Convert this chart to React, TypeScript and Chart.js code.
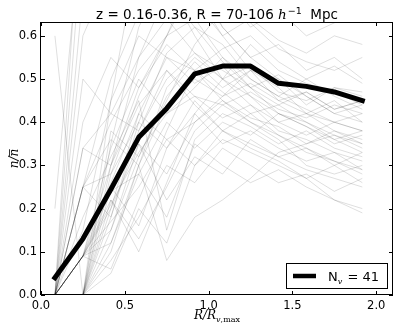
import React, { useEffect, useRef } from 'react';
import { Chart, registerables } from 'chart.js';

Chart.register(...registerables);

// ---- data ----
const xBins = [0.083, 0.25, 0.417, 0.583, 0.75, 0.917, 1.083, 1.25, 1.417, 1.583, 1.75, 1.917];
const meanProfile = [0.04, 0.13, 0.245, 0.365, 0.432, 0.512, 0.53, 0.53, 0.49, 0.483, 0.47, 0.45];
const xTicks = [0, 0.5, 1.0, 1.5, 2.0];
const yTicks = [0, 0.1, 0.2, 0.3, 0.4, 0.5, 0.6];
const xRange = [0, 2.1];
const yRange = [0, 0.632];
const voidCount = 41;

const void01 = [0, 0.09, 0.21, 0.33, 0.42, 0.46, 0.41, 0.44, 0.38, 0.36, 0.33, 0.31];
const void02 = [0, 0.09, 0.17, 0.25, 0.36, 0.40, 0.45, 0.41, 0.39, 0.35, 0.37, 0.34];
const void03 = [0, 0.25, 0.40, 0.52, 0.60, 0.72, 0.62, 0.55, 0.50, 0.46, 0.42, 0.44];
const void04 = [0.6, 0, 0.12, 0.30, 0.48, 0.55, 0.50, 0.58, 0.52, 0.49, 0.47, 0.44];
const void05 = [0, 0, 0.10, 0.30, 0.08, 0.18, 0.22, 0.27, 0.33, 0.35, 0.38, 0.36];
const void06 = [0, 0.34, 0.42, 0.38, 0.50, 0.56, 0.52, 0.48, 0.44, 0.47, 0.43, 0.45];
const void07 = [0, 0.85, 0.70, 0.65, 0.72, 0.60, 0.50, 0.46, 0.42, 0.40, 0.37, 0.35];
const void08 = [0, 0, 0.30, 0.55, 0.70, 0.62, 0.58, 0.50, 0.46, 0.43, 0.40, 0.42];
const void09 = [0, 0.09, 0.22, 0.13, 0.25, 0.38, 0.44, 0.40, 0.36, 0.30, 0.28, 0.30];
const void10 = [0, 0, 0.20, 0.42, 0.55, 0.49, 0.53, 0.46, 0.40, 0.42, 0.38, 0.35];
const void11 = [0.2, 0.9, 0.75, 0.80, 0.70, 0.66, 0.72, 0.68, 0.71, 0.65, 0.70, 0.66];
const void12 = [0, 0.09, 0.30, 0.48, 0.60, 0.75, 0.62, 0.55, 0.58, 0.52, 0.55, 0.50];
const void13 = [0, 0.25, 0.28, 0.40, 0.34, 0.45, 0.38, 0.35, 0.32, 0.29, 0.27, 0.25];
const void14 = [0, 0, 0.05, 0.20, 0.12, 0.30, 0.36, 0.33, 0.30, 0.27, 0.22, 0.19];
const void15 = [0, 0.09, 0.15, 0.32, 0.45, 0.58, 0.66, 0.63, 0.57, 0.54, 0.52, 0.55];
const void16 = [0, 0.50, 0.42, 0.55, 0.64, 0.56, 0.50, 0.53, 0.47, 0.45, 0.48, 0.46];
const void17 = [0, 0, 0.25, 0.16, 0.34, 0.42, 0.35, 0.38, 0.34, 0.31, 0.33, 0.29];
const void18 = [0, 0.09, 0.06, 0.22, 0.38, 0.52, 0.47, 0.42, 0.44, 0.40, 0.36, 0.38];
const void19 = [0, 0.70, 0.95, 0.85, 0.75, 0.70, 0.60, 0.64, 0.59, 0.56, 0.60, 0.58];
const void20 = [0, 0, 0.35, 0.62, 0.75, 0.68, 0.60, 0.52, 0.45, 0.42, 0.40, 0.38];
const void21 = [0, 0.09, 0.20, 0.35, 0.28, 0.40, 0.46, 0.52, 0.48, 0.42, 0.45, 0.40];
const void22 = [0, 0.18, 0.32, 0.45, 0.15, 0.36, 0.42, 0.39, 0.35, 0.38, 0.34, 0.32];
const void23 = [0, 0, 0.08, 0.18, 0.30, 0.26, 0.34, 0.30, 0.26, 0.28, 0.24, 0.27];
const void24 = [0, 0.40, 0.55, 0.48, 0.58, 0.52, 0.57, 0.60, 0.54, 0.50, 0.53, 0.49];
const void25 = [0, 0, 0.45, 0.80, 0.66, 0.74, 0.78, 0.70, 0.76, 0.72, 0.69, 0.74];
const void26 = [0, 0.09, 0.24, 0.28, 0.40, 0.34, 0.40, 0.37, 0.42, 0.39, 0.35, 0.37];
const void27 = [0, 0.25, 0.36, 0.30, 0.44, 0.50, 0.46, 0.49, 0.45, 0.47, 0.43, 0.45];
const void28 = [0, 0, 0.15, 0.35, 0.22, 0.32, 0.28, 0.36, 0.32, 0.34, 0.30, 0.33];
const void29 = [0, 1.0, 0.80, 0.72, 0.68, 0.74, 0.70, 0.62, 0.66, 0.60, 0.63, 0.65];
const void30 = [0, 0.09, 0.34, 0.50, 0.42, 0.48, 0.55, 0.50, 0.46, 0.50, 0.46, 0.43];
const void31 = [0, 0, 0.18, 0.38, 0.52, 0.44, 0.38, 0.42, 0.37, 0.33, 0.31, 0.28];
const void32 = [0, 0.25, 0.18, 0.40, 0.56, 0.62, 0.54, 0.48, 0.51, 0.46, 0.42, 0.40];
const void33 = [0, 0, 0.28, 0.46, 0.60, 0.64, 0.55, 0.48, 0.42, 0.39, 0.36, 0.33];
const void34 = [0, 0.09, 0.12, 0.28, 0.18, 0.35, 0.30, 0.26, 0.29, 0.25, 0.22, 0.20];
const void35 = [0, 0.60, 0.75, 0.68, 0.78, 0.82, 0.74, 0.78, 0.73, 0.75, 0.70, 0.72];
const void36 = [0, 0, 0.38, 0.32, 0.46, 0.54, 0.48, 0.52, 0.50, 0.44, 0.48, 0.47];
const void37 = [0, 0.15, 0.45, 0.60, 0.55, 0.52, 0.45, 0.40, 0.37, 0.34, 0.31, 0.29];
const void38 = [0, 0.09, 0.26, 0.42, 0.36, 0.30, 0.38, 0.34, 0.31, 0.27, 0.30, 0.26];
const void39 = [0, 0, 0.22, 0.10, 0.26, 0.42, 0.50, 0.44, 0.40, 0.37, 0.40, 0.38];
const void40 = [0, 0.34, 0.30, 0.44, 0.52, 0.46, 0.44, 0.47, 0.43, 0.41, 0.44, 0.42];
const void41 = [0, 0.25, 0.50, 0.65, 0.85, 0.90, 0.80, 0.76, 0.70, 0.72, 0.66, 0.63];

const voidProfiles = [
  void01, void02, void03, void04, void05, void06, void07, void08, void09, void10,
  void11, void12, void13, void14, void15, void16, void17, void18, void19, void20,
  void21, void22, void23, void24, void25, void26, void27, void28, void29, void30,
  void31, void32, void33, void34, void35, void36, void37, void38, void39, void40, void41,
];

const SANS = '"DejaVu Sans", sans-serif';
const SERIF = '"DejaVu Serif", serif';

const decorPlugin = {
  id: 'decor',
  afterDraw(chart: any) {
    const { ctx, chartArea, scales } = chart;
    const { left, right, top, bottom } = chartArea;
    const xs = scales.x;
    const ys = scales.y;
    ctx.save();
    // frame
    ctx.strokeStyle = '#000';
    ctx.lineWidth = 1;
    ctx.strokeRect(left - 0.5, top + 0.5, right - left, bottom - top - 1);
    // inward ticks
    ctx.beginPath();
    xTicks.forEach((v) => {
      const px = Math.round(xs.getPixelForValue(v)) + 0.5;
      ctx.moveTo(px, bottom);
      ctx.lineTo(px, bottom - 4);
      ctx.moveTo(px, top);
      ctx.lineTo(px, top + 4);
    });
    yTicks.forEach((v) => {
      const py = Math.round(ys.getPixelForValue(v)) + 0.5;
      ctx.moveTo(left, py);
      ctx.lineTo(left + 4, py);
      ctx.moveTo(right, py);
      ctx.lineTo(right - 4, py);
    });
    ctx.stroke();

    ctx.fillStyle = '#000';
    ctx.textBaseline = 'alphabetic';
    // title
    const cx = (left + right) / 2;
    const tFont = `13.5px ${SANS}`;
    const hFont = `italic 13.5px ${SERIF}`;
    const supFont = `9.5px ${SANS}`;
    const p1 = 'z = 0.16-0.36, R = 70-106 ';
    const p2 = 'h';
    const p3 = '\u22121';
    const p4 = '  Mpc';
    ctx.font = tFont; const w1 = ctx.measureText(p1).width; const w4 = ctx.measureText(p4).width;
    ctx.font = hFont; const w2 = ctx.measureText(p2).width;
    ctx.font = supFont; const w3 = ctx.measureText(p3).width;
    let tx = cx - (w1 + w2 + 1 + w3 + w4) / 2;
    const ty = 19;
    ctx.textAlign = 'left';
    ctx.font = tFont; ctx.fillText(p1, tx, ty); tx += w1;
    ctx.font = hFont; ctx.fillText(p2, tx, ty); tx += w2 + 1;
    ctx.font = supFont; ctx.fillText(p3, tx, ty - 5); tx += w3;
    ctx.font = tFont; ctx.fillText(p4, tx, ty);

    // x label R/R_{v,max}
    const xl1 = 'R/R';
    const xlF = `italic 12px ${SERIF}`;
    const subV = 'v';
    const subRest = ',max';
    const subIt = `italic 8px ${SERIF}`;
    const subRm = `8px ${SERIF}`;
    ctx.font = xlF; const a1 = ctx.measureText(xl1).width;
    ctx.font = subIt; const a2 = ctx.measureText(subV).width;
    ctx.font = subRm; const a3 = ctx.measureText(subRest).width;
    let lx = cx - (a1 + a2 + a3) / 2;
    const ly = 319;
    ctx.font = xlF; ctx.fillText(xl1, lx, ly); lx += a1;
    ctx.font = subIt; ctx.fillText(subV, lx, ly + 3); lx += a2;
    ctx.font = subRm; ctx.fillText(subRest, lx, ly + 3);

    // y label n / n-bar (rotated)
    ctx.save();
    ctx.translate(18, (top + bottom) / 2);
    ctx.rotate(-Math.PI / 2);
    ctx.font = `italic 12px ${SERIF}`;
    const b1 = ctx.measureText('n/').width;
    const b2 = ctx.measureText('n').width;
    const sx = -(b1 + b2) / 2;
    ctx.fillText('n/', sx, 0);
    ctx.fillText('n', sx + b1, 0);
    ctx.lineWidth = 0.8;
    ctx.beginPath();
    ctx.moveTo(sx + b1 + 0.5, -8.5);
    ctx.lineTo(sx + b1 + b2 - 0.5, -8.5);
    ctx.stroke();
    ctx.restore();

    // legend
    const bx = 286.5, by = 263.5, bw = 101, bh = 25;
    ctx.fillStyle = '#fff';
    ctx.fillRect(bx, by, bw, bh);
    ctx.strokeStyle = '#000';
    ctx.lineWidth = 1;
    ctx.strokeRect(bx, by, bw, bh);
    ctx.lineWidth = 4.5;
    ctx.beginPath();
    ctx.moveTo(293, 276);
    ctx.lineTo(316, 276);
    ctx.stroke();
    ctx.fillStyle = '#000';
    ctx.font = `13px ${SANS}`;
    let gx = 328;
    const gy = 281;
    ctx.fillText('N', gx, gy); gx += ctx.measureText('N').width;
    ctx.font = `italic 8px ${SERIF}`;
    ctx.fillText('v', gx, gy + 3); gx += ctx.measureText('v').width;
    ctx.font = `13px ${SANS}`;
    ctx.fillText(` = ${voidCount}`, gx + 1, gy);
    ctx.restore();
  },
};

export default function App() {
  const ref = useRef<HTMLCanvasElement>(null);
  useEffect(() => {
    document.body.style.margin = '0';
    const canvas = ref.current;
    if (!canvas) return;
    const grayDatasets = voidProfiles.map((prof, k) => ({
      label: `void ${k + 1}`,
      data: prof.map((y, i) => ({ x: xBins[i], y })),
      borderColor: 'rgba(0,0,0,0.13)',
      borderWidth: 1,
      pointRadius: 0,
      fill: false,
      tension: 0,
      order: 1,
    }));
    const meanDataset = {
      label: 'mean',
      data: meanProfile.map((y, i) => ({ x: xBins[i], y })),
      borderColor: '#000',
      borderWidth: 5,
      borderCapStyle: 'square',
      borderJoinStyle: 'round',
      pointRadius: 0,
      fill: false,
      tension: 0,
      order: 0,
    };
    const tickFont = { family: SANS, size: 11.5 };
    const chart = new Chart(canvas, {
      type: 'line',
      data: { datasets: [meanDataset as any, ...grayDatasets] },
      options: {
        responsive: false,
        animation: false,
        devicePixelRatio: 1,
        layout: { padding: { top: 22, right: 6, left: 0, bottom: 0 } },
        plugins: { legend: { display: false }, tooltip: { enabled: false }, title: { display: false } },
        scales: {
          x: {
            type: 'linear',
            min: xRange[0],
            max: xRange[1],
            afterBuildTicks: (s: any) => { s.ticks = xTicks.map((v) => ({ value: v })); },
            afterFit: (s: any) => { s.height = 35; },
            ticks: {
              callback: (v: any) => Number(v).toFixed(1),
              font: tickFont,
              color: '#000',
              padding: 4,
              maxRotation: 0,
              autoSkip: false,
            },
            grid: { display: false, drawTicks: false },
            border: { display: false },
          },
          y: {
            type: 'linear',
            min: yRange[0],
            max: yRange[1],
            afterBuildTicks: (s: any) => { s.ticks = yTicks.map((v) => ({ value: v })); },
            afterFit: (s: any) => { s.width = 41; },
            ticks: {
              callback: (v: any) => Number(v).toFixed(1),
              font: tickFont,
              color: '#000',
              padding: 4,
              autoSkip: false,
            },
            grid: { display: false, drawTicks: false },
            border: { display: false },
          },
        },
      },
      plugins: [decorPlugin],
    } as any);
    return () => chart.destroy();
  }, []);
  return (
    <div style={{ width: 399, height: 330, background: '#fff' }}>
      <canvas ref={ref} width={399} height={330} style={{ display: 'block' }} />
    </div>
  );
}
